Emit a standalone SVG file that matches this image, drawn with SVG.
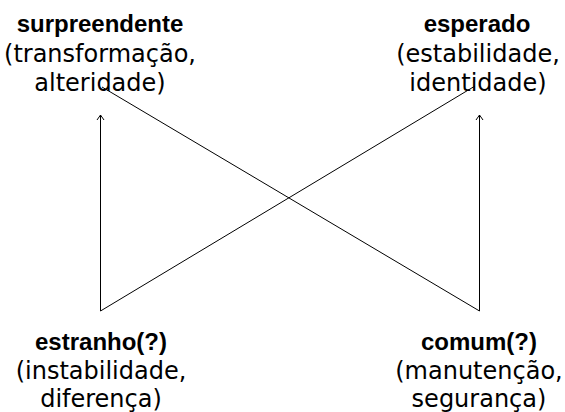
<svg xmlns="http://www.w3.org/2000/svg" width="565" height="412" viewBox="0 0 565 412">
<style>
text{font-family:"DejaVu Sans","Liberation Sans",sans-serif;font-size:24px;fill:#000;text-anchor:middle}
.t{font-family:"Liberation Sans","DejaVu Sans",sans-serif;font-weight:bold}
.c{stroke:#000;stroke-width:1;fill:none}
</style>
<defs>
<marker id="ah" markerUnits="userSpaceOnUse" markerWidth="12" markerHeight="12" viewBox="-6 -6 12 12" refX="0" refY="0" orient="auto">
<path d="M-5,-3.5 L0,0 L-5,3.5" fill="none" stroke="#000" stroke-width="1"/>
</marker>
</defs>
<rect width="565" height="412" fill="#fff"/>
<g id="connectors">
<line class="c" x1="100.5" y1="311" x2="100.5" y2="115" marker-end="url(#ah)"/>
<line class="c" x1="479.5" y1="311" x2="479.5" y2="115" marker-end="url(#ah)"/>
<line class="c" x1="100.5" y1="311" x2="475" y2="86"/>
<line class="c" x1="479.5" y1="311" x2="102" y2="87"/>
</g>
<g id="surpreendente">
<text class="t" x="100" y="32">surpreendente</text>
<text x="100" y="61.5">(transformação,</text>
<text x="100" y="90.5">alteridade)</text>
</g>
<g id="esperado">
<text class="t" x="477" y="32">esperado</text>
<text x="478" y="61.5">(estabilidade,</text>
<text x="478" y="90.5">identidade)</text>
</g>
<g id="estranho">
<text class="t" x="101" y="350">estranho(?)</text>
<text x="101" y="378.5">(instabilidade,</text>
<text x="101" y="407">diferença)</text>
</g>
<g id="comum">
<text class="t" x="479" y="350">comum(?)</text>
<text x="479" y="378.5">(manutenção,</text>
<text x="479" y="407">segurança)</text>
</g>
</svg>
